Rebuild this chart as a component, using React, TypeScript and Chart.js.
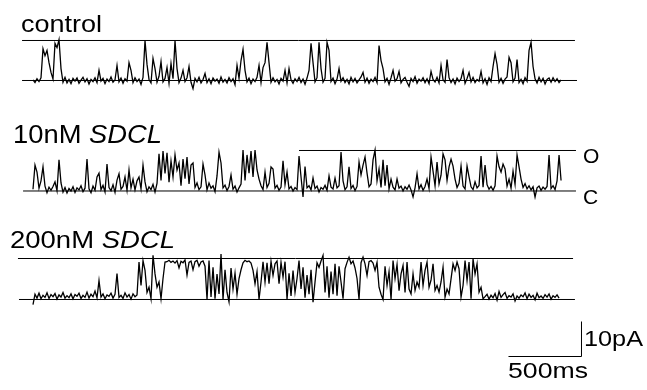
import React, { useEffect, useRef } from "react";
import { Chart, registerables } from "chart.js";

Chart.register(...registerables);

// ---- data (current in pA above the closed level, sampled every SAMPLE_MS) ----
const SAMPLE_MS = 13.7;
const TRACE_NAMES = ["control", "10nM SDCL", "200nM SDCL"];
const OPEN_LEVELS_PA = [11.43, 11.57, 11.71];
const TRACE_OFFSETS_PA = [88.43, 56.86, 25.86];

const CONTROL_PA = [
  0.2, -0.6, 0.5, -0.3, 0.8, 9.1, 7.1, 8.6, 5.1, 2.3,
  0.4, 10.6, 9.4, 11.7, 3.4, -0.5, 0.9, -0.7, 0.3, -0.9,
  0.6, -0.2, 0.7, -0.8, 0.1, 0.9, -0.4, 0.5, -1.0, 0.3,
  -0.3, 0.8, -0.6, 2.9, -0.2, 0.6, -0.9, 0.4, -0.3, 1.0,
  -0.5, 0.2, 4.3, -0.4, 0.7, -0.8, 0.5, -0.2, 5.1, 2.9,
  -0.6, 0.8, -0.3, 0.4, -1.1, 0.9, 11.4, 4.6, 0.3, -0.7,
  6.3, 3.4, -0.5, 1.2, 5.4, -0.4, 0.6, 3.7, -0.8, 4.9,
  0.5, 11.4, 3.4, -0.6, 0.7, 2.9, -0.3, 0.8, 4.0, -0.5,
  -2.3, 0.6, -0.4, 0.9, -0.7, 0.3, 2.0, -0.6, 0.5, -0.9,
  0.7, -0.2, 0.4, -0.8, 1.0, -0.5, 0.3, -0.7, 0.8, -0.3,
  0.5, -1.2, 4.3, 0.6, 5.7, 8.9, 2.9, -0.4, 0.7, -0.9,
  0.4, -0.3, 0.9, 4.3, -0.6, 3.7, 5.1, 10.9, 5.1, -0.5,
  0.8, -0.4, 0.3, -1.0, 0.6, -0.2, 2.9, -0.7, 3.4, 0.2,
  -0.8, 0.5, -0.3, 0.9, -0.6, 0.4, -1.1, 0.7, 2.9, 10.6,
  5.1, -0.4, 0.8, 10.9, 3.4, -0.5, 0.6, 10.9, 8.6, -0.3,
  0.7, -0.9, 0.4, 3.4, -0.2, 0.8, -0.6, 0.3, -1.0, 0.9,
  -0.4, 0.6, -0.7, 0.2, 1.0, 2.3, -0.5, 0.7, -0.8, 0.4,
  -0.3, 0.9, -0.6, 10.0, 5.7, 3.4, -0.4, 0.6, -1.1, 0.8,
  2.9, -0.2, 0.5, 2.6, -0.7, 0.3, 0.9, -0.5, -1.7, 0.6,
  -0.3, 1.1, -0.8, 0.4, -0.2, 0.8, -0.6, 0.5, -0.9, 2.6,
  0.3, -0.4, 0.9, -0.7, 4.3, 0.2, -0.5, 6.0, 0.8, -0.6,
  0.4, -1.0, 0.7, -0.3, 0.5, 2.9, -0.8, 0.6, 2.3, -0.4,
  0.9, -0.6, 0.3, -0.2, 2.6, -0.7, 0.5, -1.1, 0.8, -0.3,
  4.0, 7.7, 4.6, -0.5, 0.6, -0.8, 0.4, 1.0, 6.6, 5.1,
  -0.4, 0.7, 6.0, -0.6, 0.3, -0.9, 0.8, -0.2, 8.6, 10.9,
  4.0, 0.5, -0.7, 0.9, -0.4, 0.6, -1.0, 0.3, 0.7, -0.5,
  0.8, -0.3, 0.5, -0.6, 0.2,
];

const SDCL10_PA = [
  0.5, 7.4, 5.4, 0.8, 2.9, 6.9, 1.4, -0.5, 1.1, 0.2,
  1.3, 2.6, 0.1, 8.9, 2.3, -0.3, 1.0, -0.6, 0.7, 0.0,
  1.2, -0.4, 0.9, 0.3, 1.5, -0.2, 0.8, 9.1, 0.6, -0.5,
  1.4, 0.2, 4.0, 5.1, 0.4, 1.6, -0.3, 7.7, 1.0, 0.1,
  1.8, -0.4, 3.1, 4.9, 0.5, 1.3, 4.0, 0.2, 6.0, 0.9,
  3.4, 0.3, 2.9, 4.0, 0.6, 7.4, 2.6, -0.2, 1.2, 0.4,
  1.9, -0.3, 2.2, 10.6, 3.0, 11.4, 5.0, 10.9, 2.5, 8.6,
  4.0, 10.3, 6.0, 8.0, 1.5, 9.1, 3.5, 9.7, 2.0, 7.4,
  8.0, 1.0, 2.3, 0.4, 1.2, 7.7, 4.6, 0.3, 2.3, 0.8,
  1.5, -0.2, 4.3, 11.1, 8.0, 0.9, 1.7, 0.1, 1.3, 4.6,
  0.5, 1.4, -0.3, 0.9, 2.0, 11.7, 3.0, 10.3, 5.1, 11.4,
  4.0, 11.7, 6.0, 3.4, 1.5, 0.4, 5.4, 1.0, 2.2, 6.9,
  6.3, 0.8, 1.6, 0.2, 1.1, 8.6, 1.8, 5.4, 0.6, 1.3,
  0.0, 1.0, 0.4, 10.0, 4.0, -1.7, 7.0, 0.9, 1.5, 0.3,
  3.7, 0.7, 1.4, -0.3, 1.0, 0.5, 1.6, 0.2, 4.3, 1.1,
  0.6, 3.7, 0.9, 1.5, 11.1, 2.9, 0.4, 1.2, 6.9, 0.7,
  1.6, 0.1, 1.3, 8.3, 4.6, 7.4, 9.7, 5.1, 1.2, 2.0,
  8.9, 11.7, 2.9, 6.3, 1.0, 8.9, 1.5, 7.4, 0.6, 3.4,
  1.1, 0.3, 3.4, 0.8, 1.4, 0.0, 1.2, 0.5, 1.7, 0.3,
  -1.7, 0.9, 4.9, 0.6, 1.8, 0.2, 1.3, 3.4, 0.7, 9.7,
  5.7, 1.5, 8.3, 2.0, 4.5, 10.6, 8.9, 3.0, 6.9, 9.1,
  7.1, 3.4, 1.0, 2.2, 7.1, 1.4, 0.6, 7.1, 4.0, 1.2,
  0.4, 2.6, 0.9, 1.6, 10.0, 1.1, 7.4, 1.8, 0.5, 1.3,
  0.2, 1.5, 10.0, 6.9, 5.4, 7.7, 6.3, 1.4, 3.4, 0.8,
  5.7, 1.9, 10.3, 6.9, 3.4, 1.0, 2.1, 0.6, 1.5, 0.3,
  1.2, -1.7, 0.9, 1.4, 0.2, 1.1, 0.5, 1.3, 10.3, 0.7,
  1.5, 0.4, 2.9, 10.3, 3.0,
];

const SDCL200_PA = [
  -1.5, 1.5, 0.4, 1.8, 0.2, 1.2, 0.6, 1.9, 0.3, 1.4,
  0.8, 1.7, 0.1, 1.3, 0.7, 2.0, 0.4, 1.1, 0.5, 1.6,
  0.2, 1.4, 0.9, 1.8, 0.3, 1.2, 0.6, 2.1, 0.4, 1.5,
  0.8, 2.4, 0.5, 5.4, 0.7, 1.6, 0.2, 1.3, 0.9, 1.8,
  0.4, 1.5, 7.4, 0.6, 1.2, 0.3, 1.9, 0.7, 1.4, 0.1,
  1.6, 0.8, 1.3, 10.7, 4.0, 11.1, 8.3, 2.0, 3.5, 0.2,
  12.6, 7.3, 3.5, 5.0, 0.2, 6.0, 10.7, 10.8, 11.2, 10.6,
  11.0, 10.4, 11.1, 9.0, 10.9, 10.5, 11.3, 7.0, 10.6, 11.0,
  8.5, 10.8, 11.2, 9.5, 10.7, 11.0, 9.5, 0.0, 11.1, 0.7,
  9.2, 0.2, 7.3, 1.6, 13.0, 0.0, 8.5, 2.0, -0.7, 9.0,
  3.0, 7.5, 1.5, 6.0, 8.5, 10.5, 11.2, 10.8, 11.0, 10.4,
  8.3, 4.5, 8.0, 0.0, 5.0, 10.8, 5.0, 10.5, 4.5, 10.9,
  6.9, 10.2, 11.0, 4.5, 10.6, 6.4, 10.8, 0.0, 7.5, 1.0,
  8.3, 2.0, 6.0, 11.1, 3.0, 9.2, 0.5, 7.0, 1.5, 8.5,
  -0.8, 5.0, 10.5, 9.2, 11.0, 12.6, 2.0, 9.5, 0.5, 8.0,
  1.5, 10.2, 1.1, 9.5, 5.0, 0.2, 8.8, 10.6, 12.1, 10.2,
  11.0, 9.0, 6.0, 0.0, 10.5, 12.1, 10.2, 6.9, 10.8, 11.1,
  10.4, 8.3, 10.6, 3.5, 1.5, 0.0, 9.5, 4.0, 8.0, 0.0,
  11.1, 6.0, 10.0, 2.5, 7.3, 9.7, 2.0, 10.7, 3.0, 1.6,
  7.3, 2.6, 5.0, 3.5, 10.7, 4.0, 8.3, 10.7, 3.5, 5.5,
  10.2, 2.6, 4.0, 2.1, 5.0, 9.2, 0.7, 3.0, 1.6, 5.9,
  10.2, 8.3, 10.7, 8.8, 0.7, 4.0, 11.1, 5.4, 10.7, 0.2,
  11.6, 7.3, 10.2, 2.1, 3.5, 0.2, 0.8, 1.5, 0.1, 1.2,
  0.5, 1.7, -0.2, 2.3, 0.6, 1.4, 2.0, 0.3, 1.1, 0.7,
  1.6, -0.4, 1.0, 0.4, 1.3, 0.8, 1.9, 0.2, 1.5, 0.6,
  1.2, -0.1, 1.8, 0.5, 1.0, 0.3, 1.4, 0.7, 1.6, 0.1,
  1.1, 0.6, 1.3, 0.4,
];

// level lines: [start ms, end ms] for closed and open lines of each trace
const CLOSED_LINE_MS = [[-75, 3726], [-68, 3719], [-96, 3712]];
const OPEN_LINE_MS = [[-75, 3712], [1822, 3719], [-103, 3699]];

// scale bar
const SCALE_BAR_MS = 500;
const SCALE_BAR_PA = 10;
const SCALE_BAR_ORIGIN = { ms: 3756.8, pa: 9.571 };

// axis ranges
const X_MIN_MS = -226.03;
const X_MAX_MS = 4205.48;
const Y_MIN_PA = 0;
const Y_MAX_PA = 111.43;

const TRACES = [CONTROL_PA, SDCL10_PA, SDCL200_PA];

const FONT = '"Liberation Sans", Arial, Helvetica, sans-serif';

type Part = { text: string; italic?: boolean };
type Label = { parts: Part[]; x: number; y: number; size: number; width?: number };

const LABELS: Label[] = [
  { parts: [{ text: "control" }], x: 21, y: 32, size: 24, width: 81 },
  { parts: [{ text: "10nM " }, { text: "SDCL", italic: true }], x: 13, y: 143, size: 25, width: 149 },
  { parts: [{ text: "200nM " }, { text: "SDCL", italic: true }], x: 10, y: 248, size: 24.5, width: 165 },
  { parts: [{ text: "O" }], x: 583, y: 163, size: 21 },
  { parts: [{ text: "C" }], x: 583, y: 203.5, size: 21 },
  { parts: [{ text: "10pA" }], x: 584, y: 346, size: 21.5, width: 59 },
  { parts: [{ text: "500ms" }], x: 508, y: 378, size: 21.5, width: 80 },
];

const textPlugin = {
  id: "textLabels",
  afterDraw(chart: any) {
    const ctx: CanvasRenderingContext2D = chart.ctx;
    ctx.save();
    ctx.fillStyle = "#000";
    ctx.textBaseline = "alphabetic";
    ctx.textAlign = "left";
    for (const lab of LABELS) {
      const widths = lab.parts.map((p) => {
        ctx.font = `${p.italic ? "italic " : ""}${lab.size}px ${FONT}`;
        return ctx.measureText(p.text).width;
      });
      const total = widths.reduce((a, b) => a + b, 0);
      const sx = lab.width ? lab.width / total : 1;
      ctx.save();
      ctx.translate(lab.x, lab.y);
      ctx.scale(sx, 1);
      let cx = 0;
      lab.parts.forEach((p, i) => {
        ctx.font = `${p.italic ? "italic " : ""}${lab.size}px ${FONT}`;
        ctx.fillText(p.text, cx, 0);
        cx += widths[i];
      });
      ctx.restore();
    }
    ctx.restore();
  },
};

export default function App() {
  const canvasRef = useRef<HTMLCanvasElement | null>(null);

  useEffect(() => {
    const canvas = canvasRef.current;
    if (!canvas) return;
    const datasets: any[] = [];
    TRACES.forEach((vals, k) => {
      const off = TRACE_OFFSETS_PA[k];
      datasets.push({
        label: TRACE_NAMES[k] + " closed",
        data: CLOSED_LINE_MS[k].map((ms) => ({ x: ms, y: off })),
        borderColor: "#000",
        borderWidth: 1,
        pointRadius: 0,
      });
      datasets.push({
        label: TRACE_NAMES[k] + " open",
        data: OPEN_LINE_MS[k].map((ms) => ({ x: ms, y: off + OPEN_LEVELS_PA[k] })),
        borderColor: "#000",
        borderWidth: 1,
        pointRadius: 0,
      });
      datasets.push({
        label: TRACE_NAMES[k],
        data: vals.map((v, i) => ({ x: i * SAMPLE_MS, y: v + off })),
        borderColor: "#000",
        borderWidth: 1.3,
        borderJoinStyle: "miter",
        pointRadius: 0,
        tension: 0,
      });
    });
    datasets.push({
      label: "scale bar",
      data: [
        { x: SCALE_BAR_ORIGIN.ms - SCALE_BAR_MS, y: SCALE_BAR_ORIGIN.pa },
        { x: SCALE_BAR_ORIGIN.ms, y: SCALE_BAR_ORIGIN.pa },
        { x: SCALE_BAR_ORIGIN.ms, y: SCALE_BAR_ORIGIN.pa + SCALE_BAR_PA },
      ],
      borderColor: "#000",
      borderWidth: 1,
      pointRadius: 0,
    });

    const chart = new Chart(canvas, {
      type: "line",
      data: { datasets },
      options: {
        animation: false,
        responsive: false,
        maintainAspectRatio: false,
        layout: { padding: 0 },
        events: [],
        plugins: { legend: { display: false }, tooltip: { enabled: false } },
        scales: {
          x: { type: "linear", display: false, min: X_MIN_MS, max: X_MAX_MS },
          y: { type: "linear", display: false, min: Y_MIN_PA, max: Y_MAX_PA },
        },
      },
      plugins: [textPlugin],
    } as any);
    return () => chart.destroy();
  }, []);

  return (
    <div style={{ position: "fixed", left: 0, top: 0, width: 647, height: 390, background: "#fff" }}>
      <canvas ref={canvasRef} width={647} height={390} style={{ display: "block" }} />
    </div>
  );
}
